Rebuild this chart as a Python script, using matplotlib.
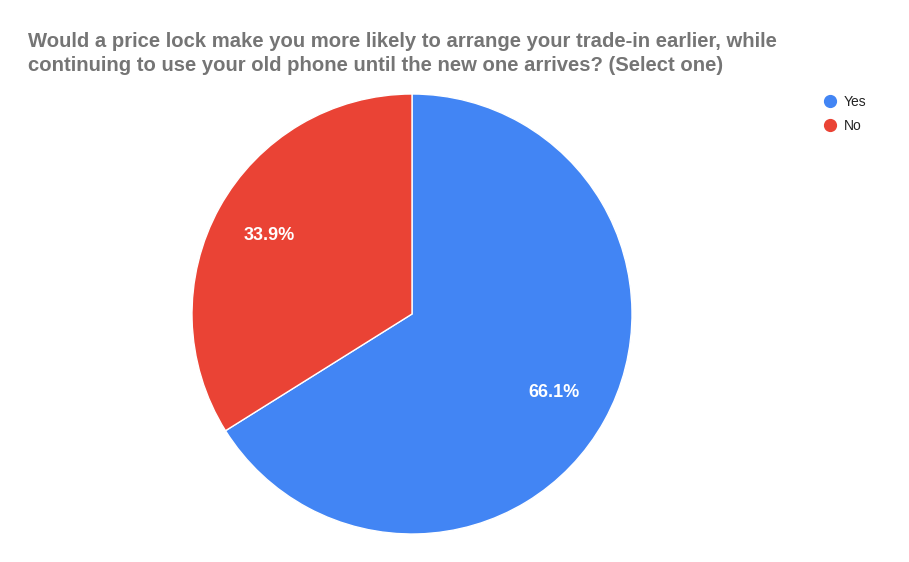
import matplotlib.pyplot as plt

plt.rcParams['font.family'] = ['Liberation Sans', 'DejaVu Sans']

# === Data ===
labels = ["Yes", "No"]
shares = [66.1, 33.9]
colors = ["#4285F4", "#EA4335"]
title = ("Would a price lock make you more likely to arrange your trade-in earlier, while\n"
         "continuing to use your old phone until the new one arrives? (Select one)")

W, H = 909, 562
fig = plt.figure(figsize=(W / 100, H / 100), dpi=100)

# pie centred at (412, 314) px, radius 220 px
cx, cy, r = 412, 314, 220
ax = fig.add_axes([(cx - r) / W, (H - cy - r) / H, 2 * r / W, 2 * r / H])

wedges, texts, autotexts = ax.pie(
    shares, colors=colors, startangle=90, counterclock=False,
    autopct=lambda p: f"{p:.1f}%", pctdistance=0.74,
    wedgeprops=dict(edgecolor="white", linewidth=1),
    textprops=dict(color="white", fontsize=13, fontweight="bold"),
)
ax.set_xlim(-1, 1)
ax.set_ylim(-1, 1)
ax.set_aspect("equal")
ax.axis("off")

fig.text(28 / W, 1 - 32 / H, title, ha="left", va="top",
         fontsize=14.6, fontweight="bold", color="#757575", linespacing=1.32)

# legend
for i, lab in enumerate(labels):
    y = 1 - (101 + 24 * i) / H
    fig.lines.append(plt.Line2D([830 / W], [y], marker="o", markersize=8.5,
                                color=colors[i], transform=fig.transFigure))
    fig.text(844 / W, y - 1 / H, lab, ha="left", va="center", fontsize=10, color="#222222")

fig.savefig("out.png", dpi=100)
